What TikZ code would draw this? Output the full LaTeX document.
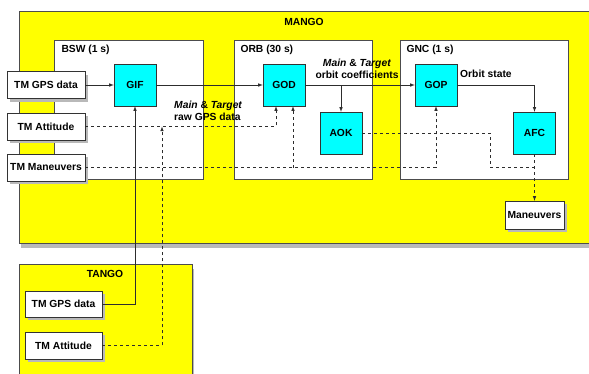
\documentclass[tikz,border=0pt]{standalone}
\usepackage{fontspec}
\setmainfont{Liberation Sans}
\definecolor{mangoyellow}{RGB}{255,255,0}
\definecolor{taskcyan}{RGB}{0,255,255}
\definecolor{linegray}{RGB}{45,45,45}
\begin{document}
\begin{tikzpicture}[
        x=1pt, y=-1pt, font=\fontsize{10.3}{12}\selectfont\bfseries,
        shadowed/.style={preaction={fill=gray!55, draw=none, transform canvas={shift={(3pt,-3pt)}}}},
        satellite/.style={draw=gray!60!black, fill=mangoyellow, inner sep=0pt,
            preaction={fill=gray!55, draw=none, transform canvas={shift={(2pt,-5pt)}}}},
        subsystem/.style={draw=gray!60!black, fill=white, inner sep=0pt},
        tmbox/.style={shadowed, draw=black!80, fill=white, inner sep=0pt, minimum width=78pt, minimum height=27pt},
        task/.style={draw=black!80, fill=taskcyan, inner sep=0pt, minimum width=42pt, minimum height=42pt},
        flow/.style={->, >=latex, linegray, semithick},
        dflow/.style={flow, dashed},
        dline/.style={linegray, semithick, dashed}
    ]
        \useasboundingbox (0,0) rectangle (589,373);

        % MANGO und TANGO.
        \node[satellite, minimum width=575pt, minimum height=232pt] (mango) at (306.5,127) {};
        \node (mangolabel) at (304,22) {MANGO};
        \node[satellite, minimum width=173pt, minimum height=120pt] (tango) at (105.5,324) {};
        \node (tangolabel) at (105,274) {TANGO};

        % Subsysteme.
        \node[subsystem, minimum width=149pt, minimum height=139pt] (bsw) at (128.5,109.5) {};
        \node[anchor=west] (bswlabel) at (58,50) {BSW (1 s)};
        \node[subsystem, minimum width=138pt, minimum height=139pt] (orb) at (303,109.5) {};
        \node[anchor=west] (orblabel) at (237,50) {ORB (30 s)};
        \node[subsystem, minimum width=168pt, minimum height=139pt] (gnc) at (484,109.5) {};
        \node[anchor=west] (gnclabel) at (403,50) {GNC (1 s)};

        % Telemetrie MANGO.
        \node[tmbox] (tmgps) at (46,85) {TM GPS data};
        \node[tmbox] (tmatt) at (46,126.5) {TM Attitude};
        \node[tmbox] (tmman) at (46,167.5) {TM Maneuvers};
        \node[tmbox, minimum width=59pt, minimum height=28pt] (maneuvers) at (534.5,215) {Maneuvers};

        % Telemetrie TANGO.
        \node[tmbox, minimum width=77pt, minimum height=26pt] (tangogps) at (63.5,304) {TM GPS data};
        \node[tmbox, minimum width=77pt] (tangoatt) at (63.5,345.5) {TM Attitude};

        % Tasks.
        \node[task] (gif) at (135,85) {GIF};
        \node[task] (god) at (284,85) {GOD};
        \node[task] (gop) at (436,85) {GOP};
        \node[task] (aok) at (341,133) {AOK};
        \node[task] (afc) at (534.5,133) {AFC};

        % Hilfspunkte.
        \coordinate (attjoin) at (162,126.5);
        \coordinate (aokbend) at (490,167);

        % GPS-Daten und Bahnkoeffizienten.
        \draw[flow] (tmgps) -- (gif);
        \draw[flow] (gif) -- (god);
        \draw[flow] (god) -- (gop);
        \draw[flow] (god.east -| aok) -- (aok);
        \draw[flow] (gop.east) -| (afc.north);
        \draw[flow] (tangogps.east) -| (gif.south);

        % Lage und Manoever.
        \draw[dflow] (tmatt.east) -| ([xshift=-8pt]god.south);
        \draw[dflow] (tangoatt.east) -| (attjoin);
        \draw[dflow] (tmman.east) -| (gop.south);
        \draw[dflow] ([xshift=9pt]god.south |- tmman.east) -- ([xshift=9pt]god.south);
        \draw[dline] (aok.east) -| (aokbend) -- (aokbend -| afc.south);
        \draw[dflow] (afc.south) -- (maneuvers.north);

        % Beschriftungen.
        \node[align=center, inner sep=0pt] (orbitcoef) at (357,69) {\textit{Main} \& \textit{Target}\\orbit coefficients};
        \node[anchor=west, inner sep=0pt] (orbitstate) at (460,74) {Orbit state};
        \node[align=left, anchor=north west, inner sep=0pt] (rawgps) at (174,101) {\textit{Main} \& \textit{Target}\\raw GPS data};
    \end{tikzpicture}
\end{document}
